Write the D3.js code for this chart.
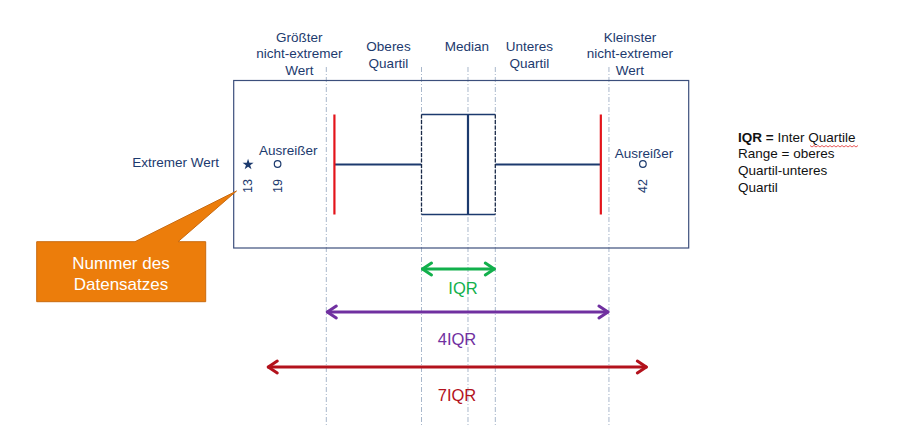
<!DOCTYPE html>
<html><head><meta charset="utf-8">
<script src="https://cdn.jsdelivr.net/npm/d3@7"></script>
<style>body{margin:0;background:#fff}svg{display:block;font-family:"Liberation Sans",Arial,sans-serif}</style>
</head><body><svg id="c" width="900" height="432"></svg>
<script>
// ---- data (value units: unteres Quartil = 0, oberes Quartil = 1; axis reversed) ----
const statLabels = [["Größter","nicht-extremer","Wert"],["Oberes","Quartil"],["Median"],["Unteres","Quartil"],["Kleinster","nicht-extremer","Wert"]];
const statValues = [2.29, 1, 0.37, 0, -1.54];
const boxValues = {q3: 1, median: 0.37, q1: 0};
const whiskerValues = [2.18, -1.43];
const outlierIds = [13, 19, 42];
const outlierValues = [3.35, 2.95, -2.0];
const outlierTypes = ["extrem", "ausreisser", "ausreisser"];
const arrowLabels = ["IQR", "4IQR", "7IQR"];
const arrowFrom = [1, 2.29, 3.09];
const arrowTo = [0, -1.54, -2.06];
const legendLines = [["IQR = ", "Inter Quartile"], ["", "Range = oberes"], ["", "Quartil-unteres"], ["", "Quartil"]];

const svg = d3.select("#c");
const x = d3.scaleLinear().domain([0, 1]).range([495.3, 421.5]);
const navy = "#1c3a6e", red = "#e3141b";
const arrowColors = ["#12b04c", "#7030a0", "#b3121c"];
const arrowY = [269, 312, 367];
const labelY = [294, 345, 401];
const labelX = [463, 457, 457];

// guide lines
svg.selectAll(".guide").data(statValues).join("line")
  .attr("x1", d => x(d)).attr("x2", d => x(d)).attr("y1", 67).attr("y2", 426)
  .attr("stroke", "#a8b7cb").attr("stroke-width", 1).attr("stroke-dasharray", "5,2,1,2");

// header labels
const labelDx = [-27, -33, -1, 34, 21];
statLabels.forEach((lines, i) => {
  const n = lines.length;
  const y0 = n === 3 ? 41.5 : 51;
  svg.append("text").attr("text-anchor", "middle").attr("fill", navy).attr("font-size", 13.5)
    .selectAll("tspan").data(lines).join("tspan")
    .attr("x", x(statValues[i]) + labelDx[i])
    .attr("y", (d, j) => y0 + j * 16.7)
    .text(d => d);
});

// frame
svg.append("rect").attr("x", 233.7).attr("y", 80.5).attr("width", 455).attr("height", 167.5)
  .attr("fill", "none").attr("stroke", "#3c4f7c").attr("stroke-width", 1.2);

const yMid = 164.5, yTop = 114.5, yBot = 214.5;
// whisker lines
svg.append("line").attr("x1", x(whiskerValues[0])).attr("x2", x(boxValues.q3)).attr("y1", yMid).attr("y2", yMid)
  .attr("stroke", navy).attr("stroke-width", 2);
svg.append("line").attr("x1", x(boxValues.q1)).attr("x2", x(whiskerValues[1])).attr("y1", yMid).attr("y2", yMid)
  .attr("stroke", navy).attr("stroke-width", 2);
svg.selectAll(".wh").data(whiskerValues).join("line")
  .attr("x1", d => x(d)).attr("x2", d => x(d)).attr("y1", yTop).attr("y2", yBot)
  .attr("stroke", red).attr("stroke-width", 2.2);
// box
svg.append("rect").attr("x", x(boxValues.q3)).attr("y", yTop)
  .attr("width", x(boxValues.q1) - x(boxValues.q3)).attr("height", yBot - yTop)
  .attr("fill", "#fff").attr("stroke", "none");
[yTop, yBot].forEach(yy => svg.append("line").attr("x1", x(boxValues.q3)).attr("x2", x(boxValues.q1))
  .attr("y1", yy).attr("y2", yy).attr("stroke", navy).attr("stroke-width", 1.3));
[boxValues.q3, boxValues.q1].forEach(v => svg.append("line").attr("x1", x(v)).attr("x2", x(v))
  .attr("y1", yTop).attr("y2", yBot).attr("stroke", "#1a2a48").attr("stroke-width", 1.3).attr("stroke-dasharray", "4,1.5"));
svg.append("line").attr("x1", x(boxValues.median)).attr("x2", x(boxValues.median)).attr("y1", yTop).attr("y2", yBot)
  .attr("stroke", navy).attr("stroke-width", 2.2);

// outliers
outlierValues.forEach((v, i) => {
  const cx = x(v), cy = outlierTypes[i] === "extrem" ? 164.5 : 164;
  if (outlierTypes[i] === "extrem") {
    svg.append("path").attr("d", d3.symbol(d3.symbolStar, 38)()).attr("transform", `translate(${cx},${cy})`)
      .attr("fill", navy);
  } else {
    svg.append("circle").attr("cx", cx).attr("cy", cy).attr("r", 3.3)
      .attr("fill", "#fff").attr("stroke", navy).attr("stroke-width", 1.2);
  }
  svg.append("text").attr("transform", `translate(${cx + 4},${186}) rotate(-90)`)
    .attr("text-anchor", "middle").attr("fill", navy).attr("font-size", 12.5).text(outlierIds[i]);
});
svg.append("text").attr("x", 259).attr("y", 155).attr("fill", navy).attr("font-size", 13.5).text("Ausreißer");
svg.append("text").attr("x", 644).attr("y", 158).attr("text-anchor", "middle").attr("fill", navy).attr("font-size", 13.5).text("Ausreißer");
svg.append("text").attr("x", 219).attr("y", 166.5).attr("text-anchor", "end").attr("fill", navy).attr("font-size", 13.5).text("Extremer Wert");

// callout
const cp = [[36.7, 241.7], [135, 241.7], [236.5, 191], [178, 241.7], [205.7, 241.7], [205.7, 301.7], [36.7, 301.7]];
svg.append("path").attr("d", d3.line()(cp) + "Z").attr("fill", "#ec7d0b").attr("stroke", "#c96a10").attr("stroke-width", 1);
svg.append("text").attr("text-anchor", "middle").attr("fill", "#fff").attr("font-size", 17)
  .selectAll("tspan").data(["Nummer des", "Datensatzes"]).join("tspan")
  .attr("x", 121).attr("y", (d, j) => 269 + j * 21).text(d => d);

// arrows
arrowLabels.forEach((lab, i) => {
  const x1 = x(arrowFrom[i]), x2 = x(arrowTo[i]), y = arrowY[i], c = arrowColors[i];
  const g = svg.append("g").attr("stroke", c).attr("stroke-width", 3).attr("fill", "none")
    .attr("stroke-linecap", "round").attr("stroke-linejoin", "round");
  g.append("line").attr("x1", x1 + 1).attr("x2", x2 - 1).attr("y1", y).attr("y2", y);
  g.append("path").attr("d", `M${x1 + 10},${y - 6}L${x1 + 1},${y}L${x1 + 10},${y + 6}`);
  g.append("path").attr("d", `M${x2 - 10},${y - 6}L${x2 - 1},${y}L${x2 - 10},${y + 6}`);
  svg.append("text").attr("x", labelX[i]).attr("y", labelY[i]).attr("text-anchor", "middle")
    .attr("fill", c).attr("font-size", 16.5).text(lab);
});

// legend note
legendLines.forEach((l, i) => {
  const t = svg.append("text").attr("x", 738).attr("y", 141.5 + i * 16.7).attr("fill", "#111").attr("font-size", 13.5);
  if (l[0]) t.append("tspan").attr("font-weight", "bold").text(l[0]);
  t.append("tspan").text(l[1]);
});
// spell-check squiggle under "Quartile"
const sq = [];
for (let k = 0; k <= 24; k++) sq.push([810 + k * 2, 145.5 + (k % 2 ? 1.5 : 0)]);
svg.append("path").attr("d", d3.line()(sq)).attr("fill", "none").attr("stroke", "#e23030").attr("stroke-width", 0.8);
</script></body></html>
